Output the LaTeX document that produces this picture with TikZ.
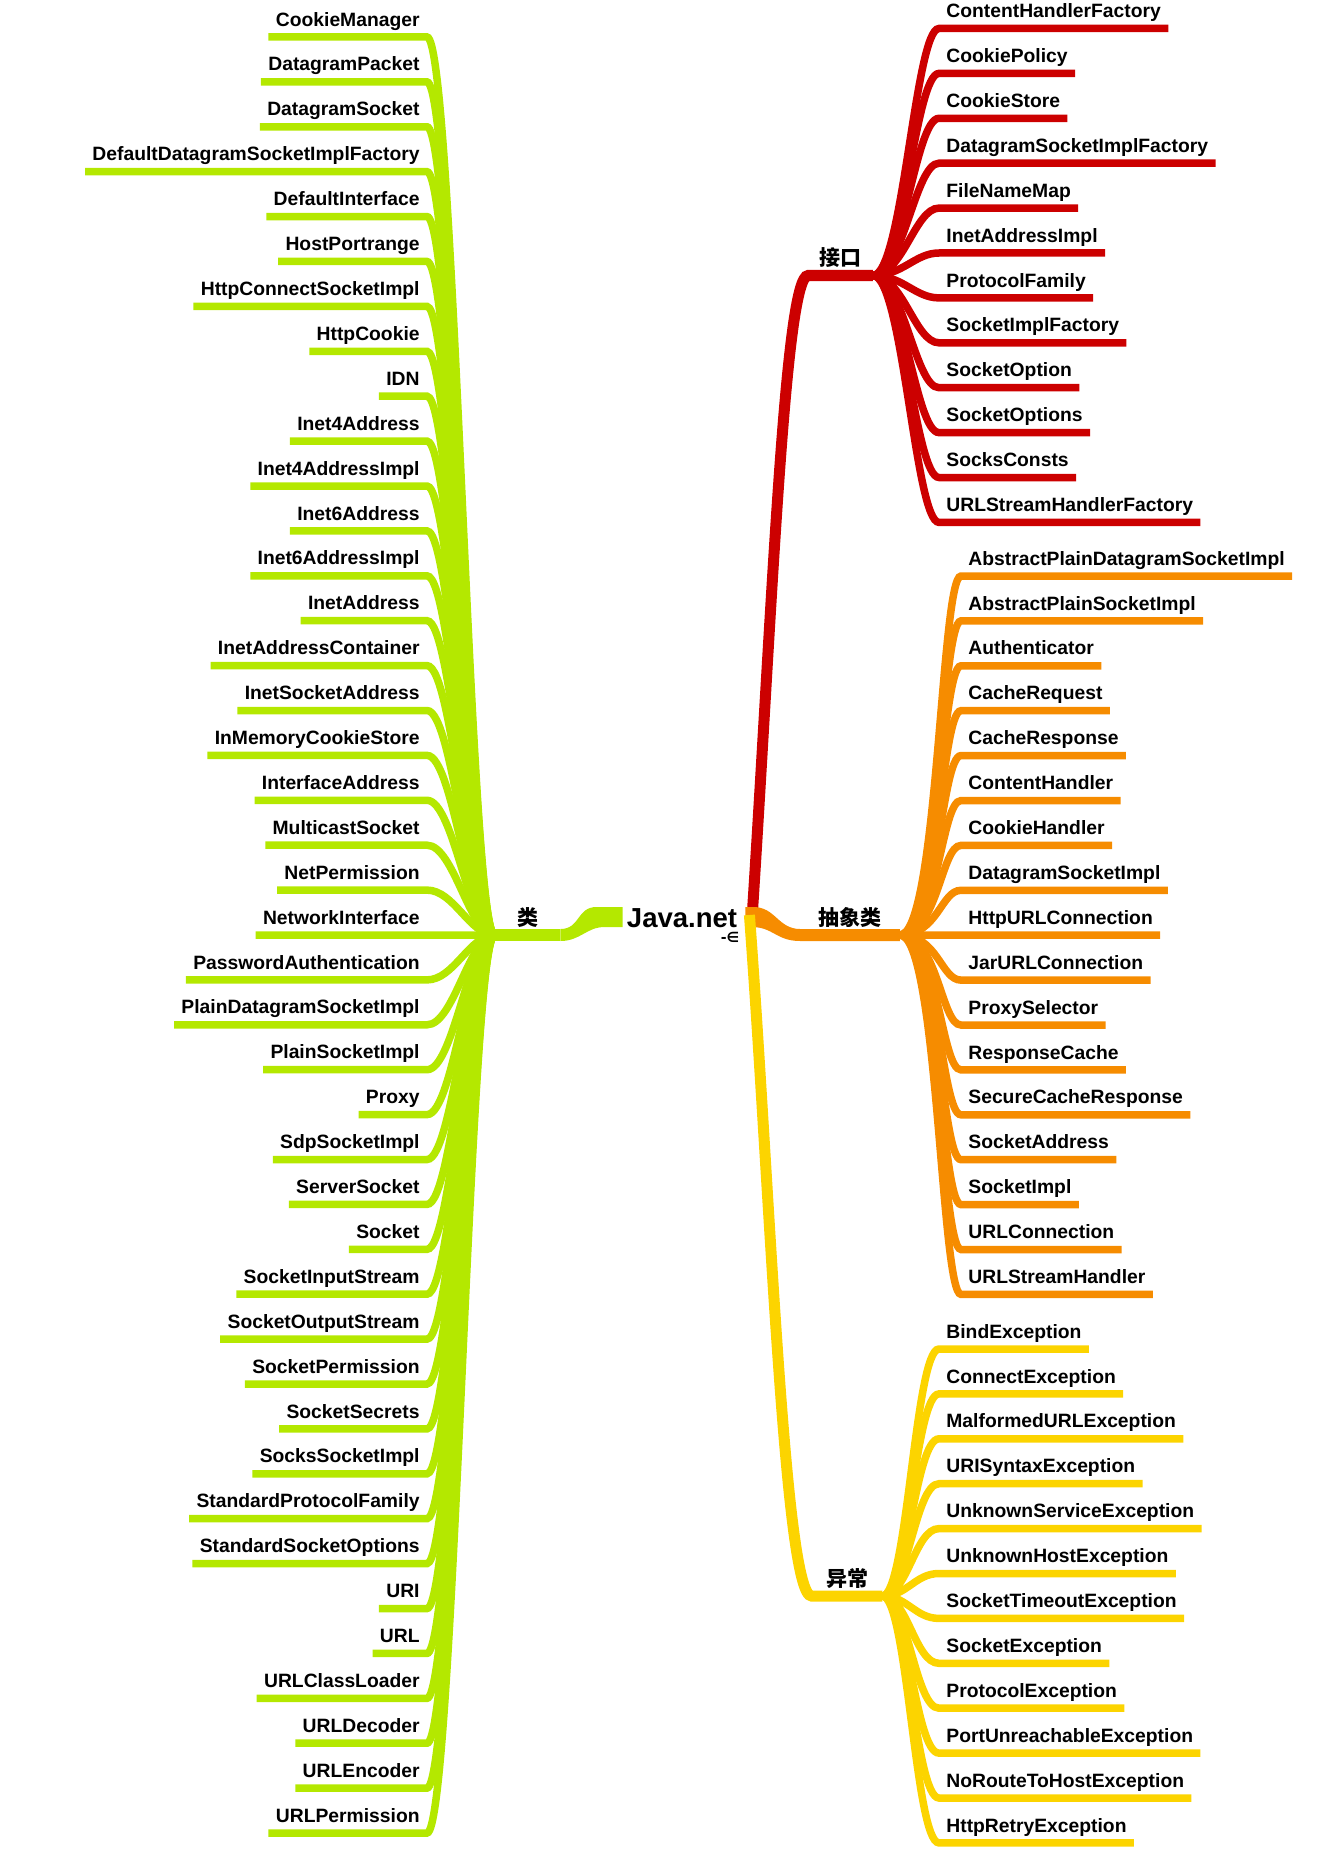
\documentclass[tikz,border=0pt]{standalone}
\usepackage{fontspec}
\setmainfont{Liberation Sans}
\newfontfamily\cjk{Noto Sans CJK SC}
\newfontfamily\symfont{DejaVu Sans}
\usetikzlibrary{calc}
\definecolor{limeC}{RGB}{180,232,0}
\definecolor{redC}{RGB}{204,0,0}
\definecolor{orangeC}{RGB}{246,140,0}
\definecolor{yellowC}{RGB}{252,212,0}
\tikzset{
	leaf/.style={font=\fontsize{9.65}{11}\selectfont\bfseries, text depth=0pt, inner xsep=3.5pt, inner ysep=5.25pt},
	twig/.style={line width=3.75pt},
	limb/.style={line width=5.5pt},
	cat/.style={font=\fontsize{10.5}{12}\selectfont\cjk\bfseries, text depth=0pt, inner ysep=4.65pt, anchor=south},
}
\begin{document}
\begin{tikzpicture}[x=0.5pt, y=-0.5pt]
	\useasboundingbox (0,0) rectangle (1328,1862);
	\node[font=\fontsize{13.75}{16}\selectfont\bfseries, anchor=base, inner xsep=2pt] (jnet) at (682,927) {Java.net};
	\node[font=\fontsize{7}{7}\selectfont\symfont\bfseries, inner sep=0pt] (jnote) at (730,937) {-∈};
	\node[cat, inner xsep=11pt] (lei) at (527.5,935) {类};
	\node[cat, inner xsep=5.5pt] (jiekou) at (840.5,275.5) {接口};
	\node[cat, inner xsep=9pt] (chouxiang) at (850,935) {抽象类};
	\node[cat, inner xsep=7pt] (yichang) at (847,1596) {异常};
	\foreach \name [count=\i from 0] in {CookieManager, DatagramPacket, DatagramSocket, DefaultDatagramSocketImplFactory, DefaultInterface, HostPortrange, HttpConnectSocketImpl, HttpCookie, IDN, Inet4Address, Inet4AddressImpl, Inet6Address, Inet6AddressImpl, InetAddress, InetAddressContainer, InetSocketAddress, InMemoryCookieStore, InterfaceAddress, MulticastSocket, NetPermission, NetworkInterface, PasswordAuthentication, PlainDatagramSocketImpl, PlainSocketImpl, Proxy, SdpSocketImpl, ServerSocket, Socket, SocketInputStream, SocketOutputStream, SocketPermission, SocketSecrets, SocksSocketImpl, StandardProtocolFamily, StandardSocketOptions, URI, URL, URLClassLoader, URLDecoder, URLEncoder, URLPermission} {
		\node[leaf, anchor=south east] (cls\i) at (427,{37+44.9*\i}) {\name};
		\draw[twig, limeC] (cls\i.south west) -- (cls\i.south east) .. controls +(27,0) and +(-25,0) .. (lei.south west);
	}
	\foreach \name [count=\i from 0] in {ContentHandlerFactory, CookiePolicy, CookieStore, DatagramSocketImplFactory, FileNameMap, InetAddressImpl, ProtocolFamily, SocketImplFactory, SocketOption, SocketOptions, SocksConsts, URLStreamHandlerFactory} {
		\node[leaf, anchor=south west] (itf\i) at (939,{28.5+44.9*\i}) {\name};
		\draw[twig, redC] (jiekou.south east) .. controls +(30,0) and +(-24,0) .. (itf\i.south west) -- (itf\i.south east);
	}
	\foreach \name [count=\i from 0] in {AbstractPlainDatagramSocketImpl, AbstractPlainSocketImpl, Authenticator, CacheRequest, CacheResponse, ContentHandler, CookieHandler, DatagramSocketImpl, HttpURLConnection, JarURLConnection, ProxySelector, ResponseCache, SecureCacheResponse, SocketAddress, SocketImpl, URLConnection, URLStreamHandler} {
		\node[leaf, anchor=south west] (abs\i) at (961,{576+44.9*\i}) {\name};
		\draw[twig, orangeC] (chouxiang.south east) .. controls +(38,0) and +(-20,0) .. (abs\i.south west) -- (abs\i.south east);
	}
	\foreach \name [count=\i from 0] in {BindException, ConnectException, MalformedURLException, URISyntaxException, UnknownServiceException, UnknownHostException, SocketTimeoutException, SocketException, ProtocolException, PortUnreachableException, NoRouteToHostException, HttpRetryException} {
		\node[leaf, anchor=south west] (exc\i) at (939,{1349+44.9*\i}) {\name};
		\draw[twig, yellowC] (yichang.south east) .. controls +(25,0) and +(-24,0) .. (exc\i.south west) -- (exc\i.south east);
	}
	\draw[line width=6pt, limeC] (lei.south west) -- (lei.south east);
	\fill[limeC] ($(jnet.base west)+(0,-20)$) -- (jnet.base west) -- ++(-18,0) .. controls +(-18,0) and +(20,0) .. ($(lei.south east)+(0,6)$) -- ($(lei.south east)+(0,-6)$) .. controls +(20,0) and +(-20,0) .. ($(jnet.base west)+(-26,-20)$) -- cycle;
	\draw[limb, redC] ($(jnet.base east)+(11,-15)$) .. controls +(20,-312) and +(-23,0) .. (jiekou.south west) -- (jiekou.south east);
	\fill[orangeC] ($(jnet.base east)+(4,-20)$) -- ++(8,0) .. controls +(22,0) and +(-22,0) .. ($(chouxiang.south west)+(0,-6)$) -- ($(chouxiang.south east)+(0,-6)$) -- ($(chouxiang.south east)+(0,6)$) -- ($(chouxiang.south west)+(0,6)$) .. controls +(-24,0) and +(22,0) .. ($(jnet.base east)+(10,0)$) -- ($(jnet.base east)+(4,0)$) -- cycle;
	\draw[limb, yellowC] ($(jnet.base east)+(8,-12)$) .. controls +(21,283) and +(-27,0) .. (yichang.south west) -- (yichang.south east);
\end{tikzpicture}
\end{document}
